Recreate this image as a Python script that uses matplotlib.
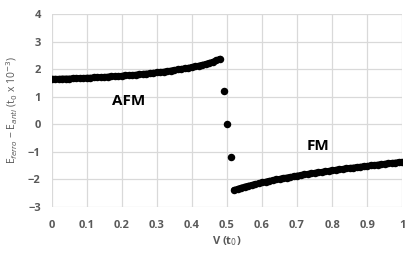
import matplotlib
matplotlib.use("Agg")
import matplotlib.pyplot as plt
import numpy as np

afm_v = [0.00, 0.01, 0.02, 0.03, 0.04, 0.05, 0.06, 0.07, 0.08, 0.09,
         0.10, 0.11, 0.12, 0.13, 0.14, 0.15, 0.16, 0.17, 0.18, 0.19,
         0.20, 0.21, 0.22, 0.23, 0.24, 0.25, 0.26, 0.27, 0.28, 0.29,
         0.30, 0.31, 0.32, 0.33, 0.34, 0.35, 0.36, 0.37, 0.38, 0.39,
         0.40, 0.41, 0.42, 0.43, 0.44, 0.45, 0.46, 0.47, 0.48]
afm_e = [1.65, 1.65, 1.65, 1.66, 1.66, 1.66, 1.67, 1.67, 1.68, 1.68,
         1.69, 1.69, 1.70, 1.71, 1.71, 1.72, 1.73, 1.74, 1.74, 1.75,
         1.76, 1.77, 1.78, 1.79, 1.80, 1.81, 1.83, 1.84, 1.85, 1.87,
         1.88, 1.90, 1.91, 1.93, 1.95, 1.97, 1.99, 2.01, 2.03, 2.05,
         2.08, 2.10, 2.13, 2.16, 2.19, 2.23, 2.27, 2.32, 2.38]

mid_v = [0.49, 0.50, 0.51]
mid_e = [1.22, 0.00, -1.20]

fm_v = [0.52, 0.53, 0.54, 0.55, 0.56, 0.57, 0.58, 0.59, 0.60, 0.61,
        0.62, 0.63, 0.64, 0.65, 0.66, 0.67, 0.68, 0.69, 0.70, 0.71,
        0.72, 0.73, 0.74, 0.75, 0.76, 0.77, 0.78, 0.79, 0.80, 0.81,
        0.82, 0.83, 0.84, 0.85, 0.86, 0.87, 0.88, 0.89, 0.90, 0.91,
        0.92, 0.93, 0.94, 0.95, 0.96, 0.97, 0.98, 0.99, 1.00]
fm_e = [-2.38, -2.34, -2.30, -2.26, -2.23, -2.20, -2.17, -2.14, -2.11, -2.08,
        -2.05, -2.03, -2.00, -1.98, -1.95, -1.93, -1.91, -1.89, -1.86, -1.84,
        -1.82, -1.80, -1.78, -1.76, -1.74, -1.73, -1.71, -1.69, -1.67, -1.65,
        -1.63, -1.62, -1.60, -1.58, -1.57, -1.55, -1.54, -1.52, -1.51, -1.49,
        -1.48, -1.46, -1.45, -1.43, -1.42, -1.40, -1.39, -1.37, -1.36]

x_ticks = [0, 0.1, 0.2, 0.3, 0.4, 0.5, 0.6, 0.7, 0.8, 0.9, 1]
x_labels = ["0", "0.1", "0.2", "0.3", "0.4", "0.5", "0.6", "0.7", "0.8", "0.9", "1"]
y_ticks = [-3, -2, -1, 0, 1, 2, 3, 4]

plt.rcParams['font.family'] = ['Open Sans', 'DejaVu Sans']

fig = plt.figure(figsize=(4.15, 2.54), dpi=100)
ax = fig.add_axes([0.125, 0.185, 0.844, 0.76])

for vv, ee in [(afm_v, afm_e), (fm_v, fm_e)]:
    ax.plot(vv, ee, '-', color='black', lw=4.2, solid_capstyle='round')
    ax.plot(vv, ee, 'o', color='black', ms=5.4, mew=0)
ax.plot(mid_v, mid_e, 'o', color='black', ms=5.4, mew=0)

ax.set_xlim(0, 1)
ax.set_ylim(-3, 4)
ax.set_xticks(x_ticks)
ax.set_xticklabels(x_labels)
ax.set_yticks(y_ticks)
ax.grid(True, color='#d9d9d9', lw=0.9)
ax.set_axisbelow(True)
for s in ax.spines.values():
    s.set_visible(False)
ax.tick_params(length=0, labelsize=8, colors='#595959')
ax.tick_params(axis='x', pad=9)
ax.tick_params(axis='y', pad=8)
for lab in ax.get_xticklabels() + ax.get_yticklabels():
    lab.set_fontweight('bold')

ax.set_xlabel("V (t$_0$)", fontsize=8, color='#595959', fontweight='bold', labelpad=3)
ax.set_ylabel("E$_{ferro}$ − E$_{anti}$ (t$_0$ x 10$^{-3}$)", fontsize=7.5,
              color='#595959')
ax.yaxis.set_label_coords(-0.09, 0.5)

ax.text(0.22, 0.84, "AFM", fontsize=11, fontweight='bold', ha='center', va='center')
ax.text(0.76, -0.80, "FM", fontsize=11, fontweight='bold', ha='center', va='center')

fig.savefig("out.png", dpi=100)
